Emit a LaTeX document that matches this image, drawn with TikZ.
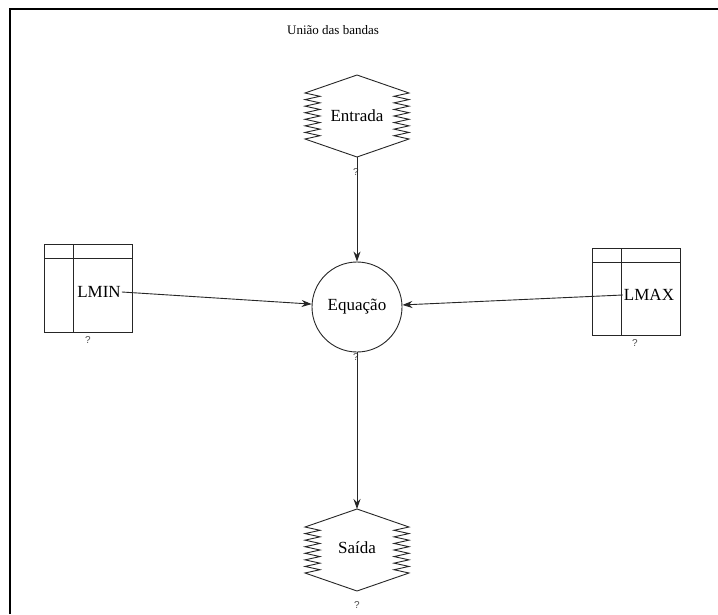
\documentclass[tikz,border=0pt]{standalone}
\usepackage{fontspec}
\setmainfont{Liberation Serif}
\newfontfamily\qfont{Liberation Sans}
\usetikzlibrary{arrows.meta}
\tikzset{
  shapeline/.style={draw=black!85, line width=0.9pt},
  lbl/.style={font=\fontsize{17}{19}\selectfont, inner sep=1pt},
  qmark/.style={font=\qfont\fontsize{10}{11}\selectfont, inner sep=0pt, text=black!70},
  flow/.style={draw=black!85, line width=0.9pt, -{Stealth[length=10pt,width=7pt]}},
  frameline/.style={draw=black, line width=2pt}
}
\newcommand\zighex[2]{%
  \draw[shapeline] (#1-52,#2+23)
    \foreach \i in {0,...,6} { -- (#1-37,#2+23-\i*6.571-3.286) -- (#1-52,#2+23-\i*6.571-6.571) }
    -- (#1,#2-41) -- (#1+52,#2-23)
    \foreach \i in {0,...,6} { -- (#1+37,#2-23+\i*6.571+3.286) -- (#1+52,#2-23+\i*6.571+6.571) }
    -- (#1,#2+41) -- cycle;}
\begin{document}
\begin{tikzpicture}[x=1pt,y=-1pt]
\useasboundingbox (0,0) rectangle (718,614);
\fill[white] (0,0) rectangle (718,614);
% window frame (top and left)
\draw[frameline] (10,614) -- (10,9) -- (718,9);
% title
\node[font=\fontsize{13}{15}\selectfont] (title) at (333,30) {União das bandas};
% Entrada
\zighex{357}{116}
\node[lbl] (entrada) at (357,116) {Entrada};
\coordinate (entB) at (357,157);
\node[qmark] (qent) at (356,172) {?};
% Equacao
\node[circle, shapeline, minimum size=90pt, inner sep=0pt, lbl] (eq) at (357,307) {Equação};
\node[qmark] (qeq) at (356,357) {?};
% Saida
\zighex{357}{550}
\node[lbl] (saida) at (357,548) {Saída};
\coordinate (saiT) at (357,509);
\node[qmark] (qsai) at (357,605) {?};
% LMIN
\draw[shapeline] (44,244) rectangle (132,332);
\draw[shapeline] (44,258) -- (132,258);
\draw[shapeline] (73,244) -- (73,332);
\node[lbl] (lmin) at (99,292) {LMIN};
\node[qmark] (qlmin) at (88,340) {?};
% LMAX
\draw[shapeline] (592,248) rectangle (680,335);
\draw[shapeline] (592,262) -- (680,262);
\draw[shapeline] (621,248) -- (621,335);
\node[lbl] (lmax) at (649,295) {LMAX};
\node[qmark] (qlmax) at (635,343) {?};
% flows
\draw[flow] (entB) -- (eq);
\draw[flow] (eq) -- (saiT);
\draw[flow] (lmin.east) -- (eq);
\draw[flow] (lmax.west) -- (eq);
\end{tikzpicture}
\end{document}
